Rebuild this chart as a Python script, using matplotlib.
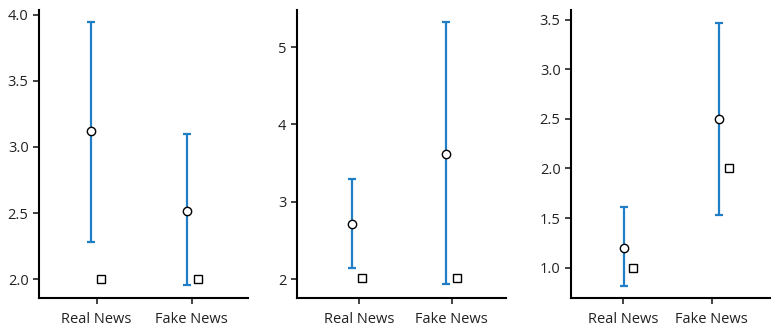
import matplotlib.pyplot as plt

categories = ["Real News", "Fake News"]

# per panel: circle (mean), lower / upper whisker, square value
means = [[3.12, 2.52], [2.72, 3.62], [1.195, 2.50]]
lowers = [[2.285, 1.957], [2.15, 1.935], [0.82, 1.53]]
uppers = [[3.945, 3.10], [3.30, 5.325], [1.61, 3.462]]
squares = [[2.0, 2.0], [2.02, 2.02], [1.0, 2.0]]

ytick_sets = [[2.0, 2.5, 3.0, 3.5, 4.0], [2, 3, 4, 5], [1.0, 1.5, 2.0, 2.5, 3.0, 3.5]]
ytick_labels = [["2.0", "2.5", "3.0", "3.5", "4.0"], ["2", "3", "4", "5"],
                ["1.0", "1.5", "2.0", "2.5", "3.0", "3.5"]]
ylims = [(1.859, 4.035), (1.758, 5.478), (0.695, 3.597)]
xlims = [(-0.607, 1.593), (-0.67, 1.58), (-0.59, 1.66)]
circle_dx = [[-0.06, -0.05], [-0.08, -0.06], [0.01, 0.086]]
square_dx = [[0.045, 0.07], [0.03, 0.06], [0.11, 0.2]]

boxes = [[39, 248], [296.7, 505.7], [571, 770]]

W, H = 771, 326
fig = plt.figure(figsize=(W / 100, H / 100), dpi=100)
plt.rcParams['font.family'] = ['Open Sans', 'DejaVu Sans']

blue = "#1f7ec6"
for i in range(3):
    l, r = boxes[i]
    ax = fig.add_axes([l / W, 1 - 298 / H, (r - l) / W, (298 - 10) / H])
    xs_c = [j + circle_dx[i][j] for j in range(2)]
    xs_s = [j + square_dx[i][j] for j in range(2)]
    err = [[means[i][j] - lowers[i][j] for j in range(2)],
           [uppers[i][j] - means[i][j] for j in range(2)]]
    ax.errorbar(xs_c, means[i], yerr=err, fmt="none", ecolor=blue,
                elinewidth=1.6, capsize=3, capthick=1.6, zorder=2)
    ax.plot(xs_c, means[i], "o", mfc="white", mec="black", mew=1.0, ms=6, zorder=3)
    ax.plot(xs_s, squares[i], "s", mfc="white", mec="black", mew=1.0, ms=5.3, zorder=3)
    ax.set_xlim(*xlims[i])
    ax.set_ylim(*ylims[i])
    ax.set_xticks([0, 1])
    ax.set_xticklabels(categories)
    ax.set_yticks(ytick_sets[i])
    ax.set_yticklabels(ytick_labels[i])
    ax.spines["top"].set_visible(False)
    ax.spines["right"].set_visible(False)
    for s in ["left", "bottom"]:
        ax.spines[s].set_linewidth(1.5)
    ax.tick_params(direction="out", length=4, width=1.2, labelsize=10.5, colors="#222222")
    ax.tick_params(axis="x", pad=6)

fig.savefig("out.png", dpi=100)
